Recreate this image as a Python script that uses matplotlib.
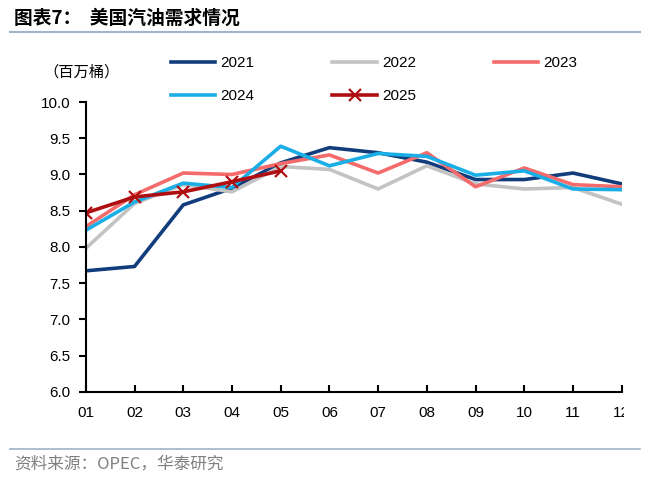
import matplotlib
matplotlib.use("Agg")
import matplotlib.pyplot as plt
from matplotlib.transforms import Bbox

plt.rcParams['font.family'] = ['Liberation Sans', 'Noto Sans CJK SC', 'DejaVu Sans']

months = ["01", "02", "03", "04", "05", "06", "07", "08", "09", "10", "11", "12"]
y2021 = [7.67, 7.73, 8.58, 8.81, 9.16, 9.37, 9.30, 9.17, 8.93, 8.93, 9.02, 8.87]
y2022 = [7.98, 8.60, 8.86, 8.76, 9.11, 9.07, 8.80, 9.12, 8.87, 8.80, 8.82, 8.59]
y2023 = [8.28, 8.72, 9.02, 9.00, 9.15, 9.27, 9.02, 9.30, 8.83, 9.09, 8.86, 8.83]
y2024 = [8.23, 8.62, 8.88, 8.82, 9.39, 9.12, 9.29, 9.25, 8.99, 9.05, 8.80, 8.79]
y2025 = [8.47, 8.69, 8.76, 8.90, 9.05]
yticks = [6.0, 6.5, 7.0, 7.5, 8.0, 8.5, 9.0, 9.5, 10.0]

fig = plt.figure(figsize=(6.6, 4.79), dpi=100)
ax = fig.add_axes([0.130, 0.182, 0.812, 0.605])

x = list(range(1, 13))
lw = 2.6
h21, = ax.plot(x, y2021, color="#123d7c", lw=lw, label="2021")
h22, = ax.plot(x, y2022, color="#c3c3c3", lw=lw, label="2022")
h23, = ax.plot(x, y2023, color="#f56a6a", lw=lw, label="2023")
h24, = ax.plot(x, y2024, color="#1aaee6", lw=lw, label="2024")
h25, = ax.plot(x[:len(y2025)], y2025, color="#b00f12", lw=lw, marker="x", ms=9, mew=1.6, label="2025")

ax.set_xlim(1, 12)
ax.set_ylim(6.0, 10.0)
ax.set_yticks(yticks)
ax.set_yticklabels([f"{v:.1f}" for v in yticks], fontsize=11)
ax.set_xticks(x)
ax.set_xticklabels(months, fontsize=11)
ax.tick_params(axis='x', direction='in', length=5, width=1.5, pad=10)
ax.tick_params(axis='y', direction='out', length=5, width=1.5, pad=6)
for s in ['top', 'right']:
    ax.spines[s].set_visible(False)
for s in ['left', 'bottom']:
    ax.spines[s].set_linewidth(1.5)

# clip last tick label like the reference
clipbox = Bbox.from_extents(0, 0, 624, 479)
for t in ax.get_xticklabels():
    t.set_clip_on(True)
    t.set_clip_box(clipbox)

handles = [h21, h24, h22, h25, h23]
labels = [h.get_label() for h in handles]
leg = fig.legend(handles, labels, loc='upper left', bbox_to_anchor=(0.238, 0.912), ncol=3,
                 frameon=False, fontsize=11, handlelength=2.9, columnspacing=5.1,
                 handletextpad=0.35, labelspacing=1.25)

fig.text(0.065, 0.850, "（百万桶）", fontsize=11, family=['Noto Sans CJK SC'], va='center')

fig.text(0.021, 0.962, "图表7：  美国汽油需求情况", fontsize=13.5, fontweight='bold',
         family=['Noto Sans CJK SC'], va='center')
fig.add_artist(plt.Line2D([0.015, 0.97], [0.933, 0.933], color="#9fb3cb", lw=1.5))
fig.add_artist(plt.Line2D([0.015, 0.97], [0.063, 0.063], color="#9fb3cb", lw=1.2))
fig.text(0.021, 0.032, "资料来源：OPEC，华泰研究", fontsize=12, color="#808080",
         family=['Noto Sans CJK SC'], va='center')

fig.savefig("out.png", dpi=100)
